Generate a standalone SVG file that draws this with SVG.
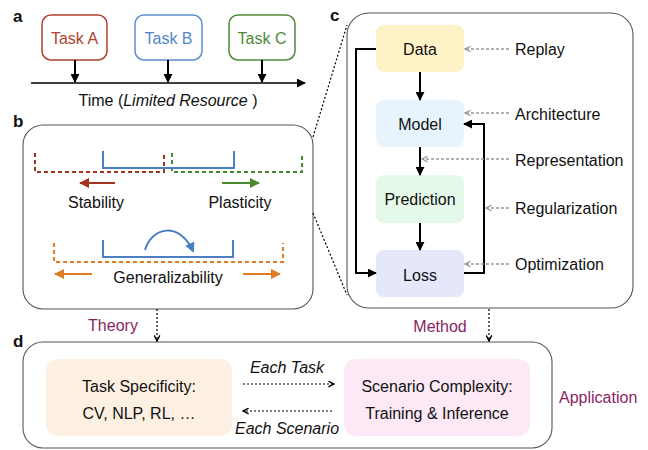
<svg xmlns="http://www.w3.org/2000/svg" width="648" height="450" viewBox="0 0 648 450">
<style>
text{font-family:"Liberation Sans",Arial,sans-serif;font-size:16px;fill:#111}
.lbl{font-size:17px;font-weight:bold}
.panel{fill:#fff;stroke:#555;stroke-width:1.1}
.mid{text-anchor:middle}
.it{font-style:italic}
.pur{fill:#8b1f63}
.blk{stroke:#000;stroke-width:2;fill:none}
.gray{stroke:#999;stroke-width:1.3;stroke-dasharray:3,2;fill:none}
.dot{stroke:#000;stroke-width:1.2;stroke-dasharray:2,2;fill:none}
</style>
<defs>
<marker id="ab" viewBox="0 0 10 10" refX="9" refY="5" markerWidth="9" markerHeight="9" markerUnits="userSpaceOnUse" orient="auto"><path d="M0,0 L10,5 L0,10 z" fill="#000"/></marker>
<marker id="ar" viewBox="0 0 10 10" refX="9" refY="5" markerWidth="10" markerHeight="10" markerUnits="userSpaceOnUse" orient="auto"><path d="M0,0 L10,5 L0,10 z" fill="#a3321f"/></marker>
<marker id="ag" viewBox="0 0 10 10" refX="9" refY="5" markerWidth="10" markerHeight="10" markerUnits="userSpaceOnUse" orient="auto"><path d="M0,0 L10,5 L0,10 z" fill="#4a8a2e"/></marker>
<marker id="ao" viewBox="0 0 10 10" refX="9" refY="5" markerWidth="10" markerHeight="10" markerUnits="userSpaceOnUse" orient="auto"><path d="M0,0 L10,5 L0,10 z" fill="#e07b24"/></marker>
<marker id="abl" viewBox="0 0 10 10" refX="8" refY="5" markerWidth="10" markerHeight="10" markerUnits="userSpaceOnUse" orient="auto"><path d="M0,0 L10,5 L0,10 z" fill="#4a7fc1"/></marker>
<marker id="agr" viewBox="0 0 10 10" refX="9" refY="5" markerWidth="7" markerHeight="7" markerUnits="userSpaceOnUse" orient="auto"><path d="M1,1 L9,5 L1,9" fill="none" stroke="#999" stroke-width="1.8"/></marker>
<marker id="ach" viewBox="0 0 10 10" refX="9" refY="5" markerWidth="7" markerHeight="7" markerUnits="userSpaceOnUse" orient="auto"><path d="M1,1 L9,5 L1,9" fill="none" stroke="#000" stroke-width="2"/></marker>
</defs>

<!-- panel labels -->
<text class="lbl" x="13" y="22">a</text>
<text class="lbl" x="13" y="127">b</text>
<text class="lbl" x="330" y="21">c</text>
<text class="lbl" x="13" y="347">d</text>

<!-- panel a -->
<g id="taskA"><rect x="42" y="15" width="65" height="45" rx="9" fill="#fff" stroke="#b0412e" stroke-width="1.5"/><text class="mid" x="74.5" y="44" style="fill:#b0412e">Task A</text></g>
<g id="taskB"><rect x="135" y="15" width="67" height="45" rx="9" fill="#fff" stroke="#5b8fd0" stroke-width="1.5"/><text class="mid" x="168.5" y="44" style="fill:#4f86cc">Task B</text></g>
<g id="taskC"><rect x="229" y="15" width="66" height="45" rx="9" fill="#fff" stroke="#4f8a3a" stroke-width="1.5"/><text class="mid" x="262" y="44" style="fill:#4f8a3a">Task C</text></g>
<g id="timeline">
<line x1="31" y1="83" x2="305" y2="83" stroke="#000" stroke-width="1.5" marker-end="url(#ab)"/>
<text class="mid" x="168" y="106">Time (<tspan class="it">Limited Resource</tspan> )</text>
</g>

<!-- panel b -->
<g id="panelB">
<rect class="panel" x="23" y="125" width="290" height="184" rx="20"/>
<path d="M35,153 V172 H164 V153" fill="none" stroke="#a3321f" stroke-width="2" stroke-dasharray="4,3"/>
<path d="M172,153 V172 H302 V153" fill="none" stroke="#4a8a2e" stroke-width="2" stroke-dasharray="4,3"/>
<path d="M103,151 V168 H234 V151" fill="none" stroke="#4a7fc1" stroke-width="2"/>
<line x1="115" y1="183" x2="80" y2="183" stroke="#a3321f" stroke-width="2" marker-end="url(#ar)"/>
<line x1="222" y1="183" x2="259" y2="183" stroke="#4a8a2e" stroke-width="2" marker-end="url(#ag)"/>
<text class="mid" x="96" y="208">Stability</text>
<text class="mid" x="240" y="208">Plasticity</text>
<path d="M54,243 V262 H283 V243" fill="none" stroke="#e07b24" stroke-width="2" stroke-dasharray="4,3"/>
<path d="M103,240 V257 H233 V240" fill="none" stroke="#4a7fc1" stroke-width="2"/>
<path d="M145,250 C152,226 180,222 193,251" fill="none" stroke="#4a7fc1" stroke-width="2" marker-end="url(#abl)"/>
<line x1="92" y1="274" x2="55" y2="274" stroke="#e07b24" stroke-width="2" marker-end="url(#ao)"/>
<line x1="243" y1="274" x2="280" y2="274" stroke="#e07b24" stroke-width="2" marker-end="url(#ao)"/>
<text class="mid" x="168" y="283">Generalizability</text>
</g>

<!-- panel c -->
<g id="panelC"><rect class="panel" x="347" y="13" width="286" height="295" rx="22"/></g>
<g id="data"><rect x="376" y="25" width="88" height="47" rx="8" fill="#fdf3c7"/><text class="mid" x="420" y="55">Data</text></g>
<g id="model"><rect x="376" y="100" width="88" height="47" rx="8" fill="#e8f4fd"/><text class="mid" x="420" y="130">Model</text></g>
<g id="prediction"><rect x="376" y="175" width="88" height="48" rx="8" fill="#e5f9e9"/><text class="mid" x="420" y="205">Prediction</text></g>
<g id="loss"><rect x="376" y="250" width="88" height="47" rx="8" fill="#e5e7fb"/><text class="mid" x="420" y="281">Loss</text></g>
<g id="cLabels">
<text x="515" y="55">Replay</text>
<text x="515" y="120">Architecture</text>
<text x="515" y="165.5">Representation</text>
<text x="515" y="213.5">Regularization</text>
<text x="515" y="269.5">Optimization</text>
</g>

<!-- panel d -->
<g id="panelD"><rect class="panel" x="23" y="342" width="529" height="106" rx="20"/></g>
<g id="taskSpec"><rect x="46" y="359" width="186" height="77" rx="12" fill="#fdf0e3"/><text class="mid" x="139" y="391.5">Task Specificity:</text><text class="mid" x="139" y="418.5">CV, NLP, RL, …</text></g>
<g id="scenario"><rect x="344" y="359" width="186" height="77" rx="12" fill="#fce9f5"/><text class="mid" x="437" y="391.5">Scenario Complexity:</text><text class="mid" x="437" y="418.5">Training &amp; Inference</text></g>
<text class="pur" x="113" y="331" text-anchor="middle">Theory</text>
<text class="pur" x="440" y="332" text-anchor="middle">Method</text>
<text class="pur" x="559" y="403">Application</text>
<text class="it mid" x="287" y="373">Each Task</text>
<text class="it mid" x="287" y="434">Each Scenario</text>

<!-- connectors -->
<g id="connectors">
<line x1="75" y1="60" x2="75" y2="82" class="blk" stroke-width="1.5" marker-end="url(#ab)"/>
<line x1="168" y1="60" x2="168" y2="82" class="blk" stroke-width="1.5" marker-end="url(#ab)"/>
<line x1="262" y1="60" x2="262" y2="82" class="blk" stroke-width="1.5" marker-end="url(#ab)"/>
<line x1="313" y1="137" x2="347" y2="25" class="dot"/>
<line x1="313" y1="213" x2="347" y2="295" class="dot"/>
<line x1="420" y1="72" x2="420" y2="100" class="blk" marker-end="url(#ab)"/>
<line x1="420" y1="147" x2="420" y2="175" class="blk" marker-end="url(#ab)"/>
<line x1="420" y1="223" x2="420" y2="250" class="blk" marker-end="url(#ab)"/>
<path d="M376,49 H356 V273 H376" class="blk" marker-end="url(#ab)"/>
<path d="M464,273 H484 V124 H464" class="blk" marker-end="url(#ab)"/>
<line x1="509" y1="49" x2="465" y2="49" class="gray" marker-end="url(#agr)"/>
<line x1="509" y1="113" x2="465" y2="113" class="gray" marker-end="url(#agr)"/>
<line x1="509" y1="159" x2="422" y2="159" class="gray" marker-end="url(#agr)"/>
<line x1="509" y1="208" x2="486" y2="208" class="gray" marker-end="url(#agr)"/>
<line x1="509" y1="264" x2="465" y2="264" class="gray" marker-end="url(#agr)"/>
<line x1="157" y1="309" x2="157" y2="341" class="dot" marker-end="url(#ach)"/>
<line x1="489" y1="309" x2="489" y2="341" class="dot" marker-end="url(#ach)"/>
<line x1="243" y1="384" x2="334" y2="384" class="dot" marker-end="url(#ach)"/>
<line x1="332" y1="411" x2="243" y2="411" class="dot" marker-end="url(#ach)"/>
</g>
</svg>
